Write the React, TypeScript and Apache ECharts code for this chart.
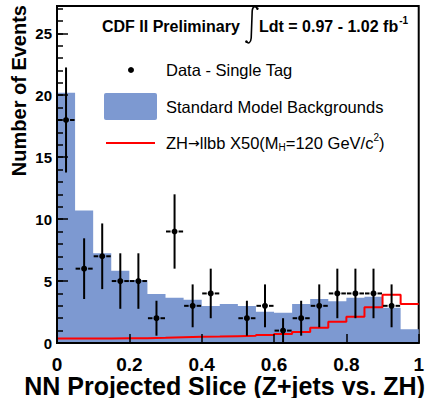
import React, { useEffect, useRef } from "react";
import * as echarts from "echarts";

const binWidth = 0.05;
const background = [20.2, 10.7, 7.25, 5.83, 5.08, 3.95, 3.65, 3.5, 2.98, 3.15, 2.98, 2.53, 2.45, 3.15, 3.55, 3.36, 3.65, 3.73, 2.85, 1.1];
const signal = [0.36, 0.36, 0.37, 0.38, 0.39, 0.42, 0.46, 0.5, 0.52, 0.55, 0.58, 0.64, 0.72, 0.88, 1.24, 1.72, 2.12, 2.88, 3.9, 3.15];
const dataCounts = [18, 6, 7, 5, 5, 2, 9, 3, 4, 0, 2, 3, 1, 2, 3, 4, 4, 4, 3, 0];
const dataErrors = [4.24, 2.45, 2.65, 2.24, 2.24, 1.41, 3.0, 1.73, 2.0, 0, 1.41, 1.73, 1.0, 1.41, 1.73, 2.0, 2.0, 2.0, 1.73, 0];
const xRange = [0, 1];
const yRange = [0, 27.2];
const yMajor = 5;
const yMinor = 1;
const xMajor = 0.2;

const FONT = "Liberation Sans, Arial, sans-serif";
const BLUE = "#7D99D1";

function stepData(vals: number[]) {
  const pts = vals.map((v, i) => [+(i * binWidth).toFixed(4), v]);
  pts.push([+(vals.length * binWidth).toFixed(4), vals[vals.length - 1]]);
  return pts;
}

export default function App() {
  const ref = useRef<HTMLDivElement>(null);
  useEffect(() => {
    document.body.style.margin = "0";
    if (!ref.current) return;
    echarts.graphic.registerShape(
      "integralSign",
      echarts.graphic.extendPath(
        "M 257 8.5 C 255.5 5.5 252.6 6 252.2 11 L 251.2 38 C 250.8 43 248.2 44.2 246.6 41.6",
        {}
      )
    );
    const chart = echarts.init(ref.current, null, { renderer: "svg" });
    const pointData = dataCounts
      .map((n, i) => [+((i + 0.5) * binWidth).toFixed(4), n, dataErrors[i]])
      .filter((d) => d[1] > 0);

    const option: any = {
      animation: false,
      backgroundColor: "#fff",
      grid: {
        left: 57,
        top: 6,
        right: 2,
        bottom: 55,
        show: true,
        borderColor: "#000",
        borderWidth: 2,
        backgroundColor: "#fff",
      },
      xAxis: {
        type: "value",
        min: xRange[0],
        max: xRange[1],
        interval: xMajor,
        z: 5,
        axisLine: { show: true, lineStyle: { color: "#000", width: 2 } },
        axisTick: { show: true, inside: true, length: 9, lineStyle: { color: "#000", width: 1.5 } },
        splitLine: { show: false },
        axisLabel: {
          color: "#000",
          fontFamily: FONT,
          fontWeight: "bold",
          fontSize: 19,
          lineHeight: 17,
          margin: 13,
        },
      },
      yAxis: [
        {
          type: "value",
          min: yRange[0],
          max: yRange[1],
          interval: yMajor,
          z: 5,
          axisLine: { show: true, lineStyle: { color: "#000", width: 2 } },
          axisTick: { show: true, inside: true, length: 11, lineStyle: { color: "#000", width: 1.5 } },
          splitLine: { show: false },
          axisLabel: {
            color: "#000",
            fontFamily: FONT,
            fontWeight: "bold",
            fontSize: 15,
            margin: 5,
            showMaxLabel: false,
          },
        },
        {
          type: "value",
          position: "left",
          min: yRange[0],
          max: yRange[1],
          interval: yMinor,
          z: 5,
          axisLine: { show: false },
          axisTick: { show: true, inside: true, length: 6, lineStyle: { color: "#000", width: 1.5 } },
          splitLine: { show: false },
          axisLabel: { show: false },
        },
      ],
      series: [
        {
          name: "Standard Model Backgrounds",
          type: "line",
          step: "end",
          data: stepData(background),
          symbol: "none",
          lineStyle: { width: 0, color: BLUE },
          areaStyle: { color: BLUE, opacity: 1 },
          z: 1,
        },
        {
          name: "ZH signal",
          type: "line",
          step: "end",
          data: stepData(signal),
          symbol: "none",
          lineStyle: { width: 2, color: "#ff0000" },
          z: 2,
        },
        {
          name: "Data",
          type: "custom",
          z: 3,
          encode: { x: 0, y: 1 },
          data: pointData,
          renderItem: (params: any, api: any) => {
            const xc = api.value(0);
            const n = api.value(1);
            const err = api.value(2);
            const c = api.coord([xc, n]);
            const l = api.coord([xc - binWidth / 2, n]);
            const r = api.coord([xc + binWidth / 2, n]);
            const t = api.coord([xc, n + err]);
            const b = api.coord([xc, Math.max(0, n - err)]);
            const gap = 4;
            const st = { stroke: "#000", lineWidth: 2 };
            return {
              type: "group",
              children: [
                { type: "line", shape: { x1: l[0] + 0.5, y1: c[1], x2: c[0] - gap, y2: c[1] }, style: st },
                { type: "line", shape: { x1: c[0] + gap, y1: c[1], x2: r[0] - 0.5, y2: c[1] }, style: st },
                { type: "line", shape: { x1: c[0], y1: t[1], x2: c[0], y2: b[1] }, style: st },
                { type: "circle", shape: { cx: c[0], cy: c[1], r: 3 }, style: { fill: "#000" } },
              ],
            };
          },
        },
      ],
      graphic: [
        {
          type: "text",
          x: 19,
          y: 5,
          rotation: Math.PI / 2,
          style: {
            text: "Number of Events",
            fontFamily: FONT,
            fontWeight: "bold",
            fontSize: 20,
            fill: "#000",
            align: "right",
            verticalAlign: "middle",
          },
        },
        {
          type: "text",
          x: 425,
          y: 386,
          style: {
            text: "NN Projected Slice (Z+jets vs. ZH)",
            fontFamily: FONT,
            fontWeight: "bold",
            fontSize: 25,
            lineHeight: 20,
            fill: "#000",
            align: "right",
            verticalAlign: "middle",
          },
        },
        {
          type: "text",
          x: 102,
          y: 26,
          style: {
            text: "CDF II Preliminary",
            fontFamily: FONT,
            fontWeight: "bold",
            fontSize: 16,
            fill: "#000",
            align: "left",
            verticalAlign: "middle",
          },
        },
        {
          type: "integralSign",
          x: 0,
          y: 0,
          style: { stroke: "#000", fill: "none", lineWidth: 1.6 },
        },
        { type: "circle", shape: { cx: 257.4, cy: 8.6, r: 1.3 }, style: { fill: "#000" } },
        { type: "circle", shape: { cx: 246.4, cy: 41.6, r: 1.3 }, style: { fill: "#000" } },
        {
          type: "text",
          x: 259,
          y: 26,
          style: {
            text: "{n|Ldt = 0.97 - 1.02 fb}{sup|-1}",
            align: "left",
            verticalAlign: "middle",
            rich: {
              n: { fontFamily: FONT, fontWeight: "bold", fontSize: 16, fill: "#000" },
              sup: { fontFamily: FONT, fontWeight: "bold", fontSize: 10, fill: "#000", padding: [0, 0, 11, 1] },
            },
          },
        },
        { type: "circle", shape: { cx: 131, cy: 70, r: 3 }, style: { fill: "#000" } },
        {
          type: "text",
          x: 166,
          y: 70,
          style: {
            text: "Data - Single Tag",
            fontFamily: FONT,
            fontSize: 16.5,
            fill: "#000",
            align: "left",
            verticalAlign: "middle",
          },
        },
        {
          type: "rect",
          shape: { x: 104, y: 93, width: 53, height: 27, r: 2 },
          style: { fill: BLUE },
        },
        {
          type: "text",
          x: 166,
          y: 107,
          style: {
            text: "Standard Model Backgrounds",
            fontFamily: FONT,
            fontSize: 16.5,
            fill: "#000",
            align: "left",
            verticalAlign: "middle",
          },
        },
        {
          type: "line",
          shape: { x1: 106, y1: 143, x2: 155, y2: 143 },
          style: { stroke: "#ff0000", lineWidth: 2 },
        },
        {
          type: "text",
          x: 166,
          y: 143,
          style: {
            text: "{n|ZH}{arr|\u2192}{n|llbb X50(M}{sub|H}{n|=120 GeV/c}{sup|2}{n|)}",
            align: "left",
            verticalAlign: "middle",
            rich: {
              n: { fontFamily: FONT, fontSize: 16.5, fill: "#000" },
              arr: { fontFamily: "DejaVu Sans", fontSize: 14, fill: "#000" },
              sub: { fontFamily: FONT, fontSize: 10, fill: "#000", padding: [9, 0, 0, 0] },
              sup: { fontFamily: FONT, fontSize: 10, fill: "#000", padding: [0, 0, 11, 0] },
            },
          },
        },
      ],
    };
    chart.setOption(option);
    return () => chart.dispose();
  }, []);
  return <div ref={ref} style={{ width: 427, height: 398 }} />;
}
